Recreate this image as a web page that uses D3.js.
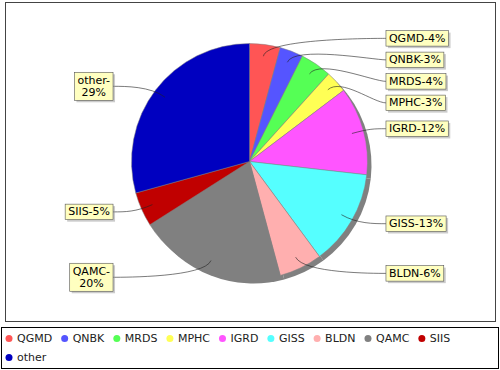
<!DOCTYPE html>
<html>
<head>
<meta charset="utf-8">
<script src="https://cdn.jsdelivr.net/npm/d3@7"></script>
<style>
  body { margin: 0; background: #fff; }
  svg { display: block; font-family: "DejaVu Sans", sans-serif; }
</style>
</head>
<body>
<div id="chart"></div>
<script>
// slice data, clockwise from 12 o'clock
const categories = ["QGMD", "QNBK", "MRDS", "MPHC", "IGRD", "GISS", "BLDN", "QAMC", "SIIS", "other"];
const shares = [4.2, 3.2, 4.3, 3.0, 12.1, 13.1, 5.9, 20.2, 4.7, 29.3];
const colors = ["#ff5555", "#5555ff", "#55ff55", "#ffff55", "#ff55ff",
                "#55ffff", "#ffafaf", "#808080", "#c00000", "#0000c0"];

const width = 500, height = 370;
const plot = { x: 5.5, y: 2.5, w: 490, h: 319 };
const cx = 249.5, cy = 161.5, r = 118;
const linkR = r / 0.95;          // link area radius
const gap = plot.w * 0.025;      // label gap
const lineH = 12.5, padV = 1.5, padH = 3;

const svg = d3.select("#chart").append("svg")
  .attr("width", width)
  .attr("height", height);

// plot border
svg.append("rect")
  .attr("x", plot.x).attr("y", plot.y)
  .attr("width", plot.w).attr("height", plot.h)
  .attr("fill", "#fff")
  .attr("stroke", "#444")
  .attr("stroke-width", 1);

const total = d3.sum(shares);
const pct = d3.format(".0%");
const pie = d3.pie().sort(null).value(d => d)(shares);
const arc = d3.arc().innerRadius(0).outerRadius(r);

const g = svg.append("g").attr("transform", `translate(${cx},${cy})`);

// shadow
g.append("g")
  .attr("transform", "translate(4,4)")
  .selectAll("path")
  .data(pie)
  .enter().append("path")
  .attr("d", arc)
  .attr("fill", "#808080");

g.selectAll(".slice")
  .data(pie)
  .enter().append("path")
  .attr("class", "slice")
  .attr("d", arc)
  .attr("fill", (d, i) => colors[i])
  .attr("stroke", "#808080")
  .attr("stroke-width", 0.5);

// labels
const measure = svg.append("text").style("font-size", "11px").attr("visibility", "hidden");
function textWidth(s) { measure.text(s); return measure.node().getComputedTextLength(); }

const labels = pie.map((d, i) => {
  const a = (d.startAngle + d.endAngle) / 2;
  const right = Math.sin(a) >= 0;
  const text = categories[i] + "-" + pct(shares[i] / total);
  const maxW = right ? 70 : 52;
  let lines = [text];
  if (textWidth(text) > maxW) {
    const k = text.indexOf("-") + 1;
    lines = [text.slice(0, k), text.slice(k)];
  }
  const w = d3.max(lines, textWidth) + padH * 2;
  const h = lines.length * lineH + padV * 2;
  return { i, a, right, lines, w, h, y: cy - Math.cos(a) * linkR };
});
measure.remove();

function distribute(list) {
  const minGap = 6;
  const minY = plot.y, maxY = plot.y + plot.h;
  list.sort((p, q) => p.y - q.y);
  const overlap = () => list.some((p, k) => k > 0 &&
    (list[k].y - list[k].h / 2) < (list[k - 1].y + list[k - 1].h / 2));
  if (overlap()) {
    for (let k = 1; k < list.length; k++) {
      const p = list[k - 1], q = list[k];
      if (q.y - q.h / 2 < p.y + p.h / 2 + minGap)
        q.y = Math.min(maxY, p.y + p.h / 2 + minGap + q.h / 2);
    }
  }
  if (overlap()) {
    for (let k = list.length - 1; k > 0; k--) {
      const p = list[k - 1], q = list[k];
      if (p.y + p.h / 2 > q.y - q.h / 2 - minGap)
        p.y = Math.max(minY, q.y - q.h / 2 - minGap - p.h / 2);
    }
  }
}
distribute(labels.filter(l => l.right));
distribute(labels.filter(l => !l.right));

const lg = svg.append("g");
labels.forEach(l => {
  const sx = Math.sin(l.a), sy = -Math.cos(l.a);
  const anchorX = l.right ? cx + linkR : cx - linkR;
  const targetX = l.right ? anchorX + gap : anchorX - gap;
  const elbowX = cx + sx * linkR, elbowY = cy + sy * linkR;
  const linkX = cx + sx * r * 0.9, linkY = cy + sy * r * 0.9;

  const p = d3.path();
  p.moveTo(targetX, l.y);
  p.bezierCurveTo(anchorX, l.y, elbowX, elbowY, linkX, linkY);
  lg.append("path")
    .attr("d", p.toString())
    .attr("fill", "none")
    .attr("stroke", "#222")
    .attr("stroke-width", 0.6);

  const bx = l.right ? targetX : targetX - l.w;
  const by = l.y - l.h / 2;
  lg.append("rect")
    .attr("x", bx + 2).attr("y", by + 2)
    .attr("width", l.w).attr("height", l.h)
    .attr("fill", "rgba(151,151,151,0.5)");
  lg.append("rect")
    .attr("x", bx).attr("y", by)
    .attr("width", l.w).attr("height", l.h)
    .attr("fill", "#ffffc0")
    .attr("stroke", "#555")
    .attr("stroke-width", 0.6);
  const t = lg.append("text")
    .attr("x", bx + l.w / 2)
    .attr("text-anchor", "middle")
    .style("font-size", "11px")
    .attr("fill", "#000");
  l.lines.forEach((s, k) => {
    t.append("tspan")
      .attr("x", bx + l.w / 2)
      .attr("y", by + padV + lineH * k + lineH / 2)
      .attr("dominant-baseline", "central")
      .text(s);
  });
});

// legend
const legend = { x: 1.5, y: 327.5, w: 497, h: 41 };
svg.append("rect")
  .attr("x", legend.x).attr("y", legend.y)
  .attr("width", legend.w).attr("height", legend.h)
  .attr("fill", "#fff")
  .attr("stroke", "#000")
  .attr("stroke-width", 1);

const rowY = [338.5, 357.5];
const leg = svg.append("g").style("font-size", "11px");
let lx = 5.5, row = 0;
categories.forEach((c, i) => {
  const item = leg.append("g");
  const txt = item.append("text").attr("fill", "#222").attr("dominant-baseline", "central").text(c);
  const tw = txt.node().getComputedTextLength();
  if (lx + 11.5 + tw > legend.x + legend.w - 3) { row++; lx = 5.5; }
  item.append("circle")
    .attr("cx", lx + 3.5).attr("cy", rowY[row])
    .attr("r", 3.5)
    .attr("fill", colors[i]);
  txt.attr("x", lx + 11.5).attr("y", rowY[row]);
  lx += 11.5 + tw + 9;
});
</script>
</body>
</html>
